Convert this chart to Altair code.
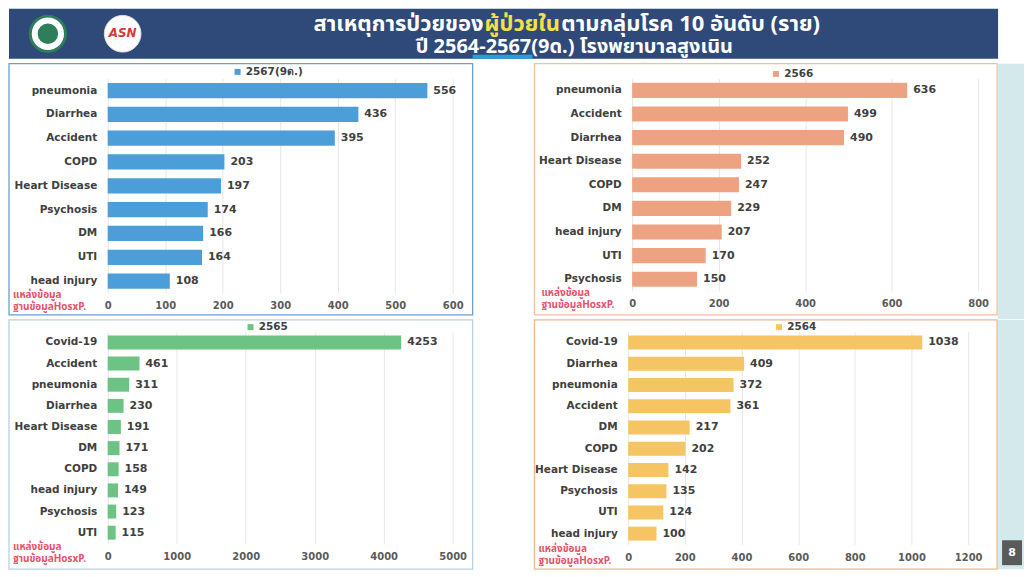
import altair as alt
import pandas as pd

# ---------------- data ----------------
cats_2567 = ["pneumonia", "Diarrhea", "Accident", "COPD", "Heart Disease",
             "Psychosis", "DM", "UTI", "head injury"]
vals_2567 = [556, 436, 395, 203, 197, 174, 166, 164, 108]

cats_2566 = ["pneumonia", "Accident", "Diarrhea", "Heart Disease", "COPD",
             "DM", "head injury", "UTI", "Psychosis"]
vals_2566 = [636, 499, 490, 252, 247, 229, 207, 170, 150]

cats_2565 = ["Covid-19", "Accident", "pneumonia", "Diarrhea", "Heart Disease",
             "DM", "COPD", "head injury", "Psychosis", "UTI"]
vals_2565 = [4253, 461, 311, 230, 191, 171, 158, 149, 123, 115]

cats_2564 = ["Covid-19", "Diarrhea", "pneumonia", "Accident", "DM", "COPD",
             "Heart Disease", "Psychosis", "UTI", "head injury"]
vals_2564 = [1038, 409, 372, 361, 217, 202, 142, 135, 124, 100]

title_line1 = ["สาเหตุการป่วยของ", "ผู้ป่วยใน", "ตามกลุ่มโรค 10 อันดับ (ราย)"]
title_line2 = "ปี 2564-2567(9ด.) โรงพยาบาลสูงเนิน"
source_lines = ["แหล่งข้อมูล", "ฐานข้อมูลHosxP."]
page_no = "8"

# ---------------- style ----------------
FONT = "DejaVu Sans"
THAI = "Noto Sans Thai, Loma, Garuda, Noto Sans, sans-serif"
TXT = "#404040"
NAVY = "#2f4a78"
TEAL = "#d3e9ec"

one = pd.DataFrame({"k": [0]})


def panel(cats, vals, year, field, color, frame_color, xmax, step, w, h,
          frame, legend_xy, src_xy, pad, extra=None):
    df = pd.DataFrame({"cat": cats, "val": vals, field: [year] * len(cats)})
    base = alt.Chart(df)
    xenc = alt.X(
        "val:Q",
        scale=alt.Scale(domain=[0, xmax], nice=False),
        axis=alt.Axis(values=list(range(0, xmax + 1, step)), grid=True,
                      gridColor="#e6e6e6", domain=False, ticks=False,
                      labelPadding=8, labelFont=FONT, labelFontWeight="bold",
                      labelFontSize=10, labelColor="#5a5a5a", title=None,
                      labelFlush=False, format="d"),
    )
    yenc = alt.Y(
        "cat:N", sort=cats,
        scale=alt.Scale(paddingInner=pad, paddingOuter=pad / 2),
        axis=alt.Axis(domain=False, ticks=False, labelPadding=11,
                      labelFont=FONT, labelFontWeight="bold", labelFontSize=10.5,
                      labelColor=TXT, title=None, labelLimit=200),
    )
    bars = base.mark_bar().encode(
        x=xenc, y=yenc,
        color=alt.Color(
            f"{field}:N",
            scale=alt.Scale(domain=[year], range=[color]),
            legend=alt.Legend(orient="none", legendX=legend_xy[0],
                              legendY=legend_xy[1], title=None,
                              symbolType="square", symbolSize=36,
                              symbolStrokeWidth=0, labelFont=FONT,
                              labelFontSize=10.5, labelFontWeight="bold",
                              labelColor=TXT, padding=0, labelOffset=3),
        ),
    )
    labels = base.mark_text(align="left", dx=6, font=FONT, fontWeight="bold",
                            fontSize=11, color=TXT).encode(
        x="val:Q", y=alt.Y("cat:N", sort=cats), text="val:Q")
    fr = alt.Chart(one).mark_rect(fillOpacity=0, stroke=frame_color,
                                  strokeWidth=1.3).encode(
        x=alt.value(frame[0]), x2=alt.value(frame[1]),
        y=alt.value(frame[2]), y2=alt.value(frame[3]))
    src = alt.Chart(one).mark_text(
        text=source_lines, align="left", baseline="middle", font=THAI,
        fontSize=10, fontWeight="bold", color="#e8506a", lineHeight=12).encode(
        x=alt.value(src_xy[0]), y=alt.value(src_xy[1]))
    layers = []
    if extra is not None:
        layers += extra
    layers += [fr, bars, labels, src]
    return alt.layer(*layers).properties(width=w, height=h)


def teal(x1, x2, y1, y2):
    return alt.Chart(one).mark_rect(color=TEAL).encode(
        x=alt.value(x1), x2=alt.value(x2), y=alt.value(y1), y2=alt.value(y2))


p1 = panel(cats_2567, vals_2567, "2567(9ด.)", "y2567", "#4c9ed9", "#6a9fcf",
           600, 100, 346, 215, (-99, 366, -15, 237), (125, -12), (-95, 217), 0.36)
p2 = panel(cats_2566, vals_2566, "2566", "y2566", "#eda382", "#efbfa8",
           800, 200, 347, 213, (-98, 366, -15, 237), (139, -10), (-91, 215), 0.36,
           extra=[teal(367, 393, -15, 241)])
p3 = panel(cats_2565, vals_2565, "2565", "y2565", "#6cc383", "#b9d0e2",
           5000, 1000, 346, 212, (-99, 366, -12, 238), (138, -10), (-95, 216), 0.34)

box8 = alt.Chart(one).mark_rect(color="#5a5a5a").encode(
    x=alt.value(375), x2=alt.value(395), y=alt.value(209), y2=alt.value(234))
txt8 = alt.Chart(one).mark_text(text=page_no, color="white", font=FONT,
                                fontSize=11, fontWeight="bold").encode(
    x=alt.value(385), y=alt.value(222))
p4 = panel(cats_2564, vals_2564, "2564", "y2564", "#f5c563", "#efb688",
           1200, 200, 341, 213, (-94, 370, -12, 238), (146, -10), (-90, 218), 0.34,
           extra=[teal(371, 397, -12, 238), box8, txt8])

# ---------------- header (x relative to the first panel's plot origin) ----------------
h = alt.Chart(one)
band = h.mark_rect(color=NAVY).encode(
    x=alt.value(-99), x2=alt.value(893), y=alt.value(0), y2=alt.value(50))
stripe = h.mark_rect(color="#2a9fd8").encode(
    x=alt.value(366), x2=alt.value(426), y=alt.value(46), y2=alt.value(50))
logo1 = h.mark_point(shape="circle", filled=True, fill="white", stroke="#2e7d5b",
                     strokeWidth=3, size=1250, opacity=1).encode(
    x=alt.value(-60), y=alt.value(25))
logo1b = h.mark_point(shape="circle", filled=True, color="#2e7d5b", size=420,
                      opacity=1).encode(x=alt.value(-60), y=alt.value(25))
logo2 = h.mark_point(shape="circle", filled=True, fill="white", stroke="#dddddd",
                     strokeWidth=1, size=1350, opacity=1).encode(
    x=alt.value(15), y=alt.value(25))
logo2t = h.mark_text(text="ASN", color="#d63a3a", font=FONT, fontSize=12,
                     fontWeight="bold", fontStyle="italic").encode(
    x=alt.value(15), y=alt.value(24))
t1a = h.mark_text(text=title_line1[0], align="right", color="white", font=THAI,
                  fontSize=22, fontWeight="bold").encode(
    x=alt.value(377), y=alt.value(15))
t1b = h.mark_text(text=title_line1[1], align="left", color="#f5e04a", font=THAI,
                  fontSize=22, fontWeight="bold").encode(
    x=alt.value(378), y=alt.value(15))
t1c = h.mark_text(text=title_line1[2], align="left", color="white", font=THAI,
                  fontSize=22, fontWeight="bold").encode(
    x=alt.value(455), y=alt.value(15))
t2 = h.mark_text(text=title_line2, align="center", color="white", font=THAI,
                 fontSize=20, fontWeight="bold").encode(
    x=alt.value(468), y=alt.value(38))
# the header view itself is kept inside the band so that it adds no width
header = alt.layer(band, stripe, logo1, logo1b, logo2, logo2t,
                   t1a, t1b, t1c, t2).properties(width=800, height=50)

row1 = alt.hconcat(p1, p2, spacing=60).resolve_scale(color="independent").resolve_legend(color="independent")
row2 = alt.hconcat(p3, p4, spacing=60).resolve_scale(color="independent").resolve_legend(color="independent")
body = alt.vconcat(row1, row2, spacing=0).resolve_scale(color="independent").resolve_legend(color="independent")

chart = alt.vconcat(header, body, spacing=4).resolve_scale(
    color="independent").resolve_legend(color="independent").properties(
    padding=0, background="white"
).configure_view(strokeWidth=0)

chart.save("out.html", embed_options={"renderer": "svg", "actions": False})
